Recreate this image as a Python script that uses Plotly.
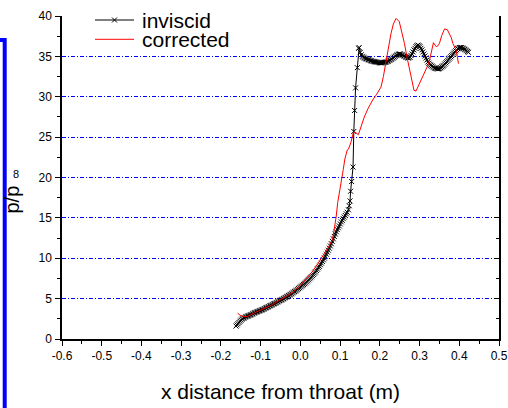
import plotly.graph_objects as go

# ---- data ----
inviscid_x = [
    -0.1620, -0.1595, -0.1570, -0.1545, -0.1520, -0.1495, -0.1470, -0.1445, -0.1420, -0.1395,
    -0.1370, -0.1345, -0.1320, -0.1295, -0.1270, -0.1245, -0.1220, -0.1195, -0.1170, -0.1145,
    -0.1120, -0.1095, -0.1070, -0.1045, -0.1020, -0.0995, -0.0970, -0.0945, -0.0920, -0.0895,
    -0.0870, -0.0845, -0.0820, -0.0795, -0.0770, -0.0745, -0.0720, -0.0695, -0.0670, -0.0645,
    -0.0620, -0.0595, -0.0570, -0.0545, -0.0520, -0.0495, -0.0470, -0.0445, -0.0420, -0.0395,
    -0.0370, -0.0345, -0.0320, -0.0295, -0.0270, -0.0245, -0.0220, -0.0195, -0.0170, -0.0145,
    -0.0120, -0.0095, -0.0070, -0.0045, -0.0020, 0.0005, 0.0030, 0.0055, 0.0080, 0.0105,
    0.0130, 0.0155, 0.0180, 0.0205, 0.0230, 0.0255, 0.0280, 0.0305, 0.0330, 0.0355,
    0.0380, 0.0405, 0.0430, 0.0455, 0.0480, 0.0505, 0.0530, 0.0555, 0.0580, 0.0605,
    0.0630, 0.0655, 0.0680, 0.0705, 0.0730, 0.0755, 0.0780, 0.0805, 0.0830, 0.0855,
    0.0880, 0.0905, 0.0930, 0.0955, 0.0980, 0.1005, 0.1030, 0.1055, 0.1080, 0.1105,
    0.1130, 0.1155, 0.1180, 0.1210, 0.1230,
    0.1250, 0.1265, 0.1290, 0.1326, 0.1345, 0.1366, 0.1390, 0.1434, 0.1467, 0.1480,
    0.1510, 0.1535, 0.1560, 0.1585, 0.1610, 0.1635, 0.1660, 0.1685, 0.1710, 0.1735,
    0.1760, 0.1785, 0.1810, 0.1835, 0.1860, 0.1885, 0.1910, 0.1935, 0.1960, 0.1985,
    0.2010, 0.2035, 0.2060, 0.2085, 0.2110, 0.2135, 0.2160, 0.2185, 0.2210, 0.2235,
    0.2260, 0.2285, 0.2310, 0.2335, 0.2360, 0.2385, 0.2410, 0.2435, 0.2460, 0.2485,
    0.2510, 0.2535, 0.2560, 0.2585, 0.2610, 0.2635, 0.2660, 0.2685, 0.2710, 0.2735,
    0.2760, 0.2785, 0.2810, 0.2835, 0.2860, 0.2885, 0.2910, 0.2935, 0.2960, 0.2985,
    0.3010, 0.3035, 0.3060, 0.3085, 0.3110, 0.3135, 0.3160, 0.3185, 0.3210, 0.3235,
    0.3260, 0.3285, 0.3310, 0.3335, 0.3360, 0.3385, 0.3410, 0.3435, 0.3460, 0.3485,
    0.3510, 0.3535, 0.3560, 0.3585, 0.3610, 0.3635, 0.3660, 0.3685, 0.3710, 0.3735,
    0.3760, 0.3785, 0.3810, 0.3835, 0.3860, 0.3885, 0.3910, 0.3935, 0.3960, 0.3985,
    0.4010, 0.4035, 0.4060, 0.4085, 0.4110, 0.4135, 0.4160, 0.4185, 0.4210, 0.4230]
inviscid_y = [
    1.60, 1.75, 1.90, 2.05, 2.20, 2.33, 2.45, 2.53, 2.60, 2.68,
    2.75, 2.80, 2.85, 2.90, 2.95, 3.00, 3.05, 3.12, 3.20, 3.25,
    3.30, 3.35, 3.40, 3.45, 3.50, 3.55, 3.60, 3.65, 3.70, 3.78,
    3.85, 3.90, 3.95, 4.02, 4.10, 4.15, 4.20, 4.28, 4.35, 4.40,
    4.45, 4.53, 4.60, 4.68, 4.75, 4.80, 4.85, 4.93, 5.00, 5.08,
    5.15, 5.23, 5.30, 5.38, 5.45, 5.53, 5.60, 5.70, 5.80, 5.88,
    5.95, 6.05, 6.15, 6.25, 6.35, 6.45, 6.55, 6.65, 6.75, 6.85,
    6.95, 7.08, 7.20, 7.33, 7.45, 7.58, 7.70, 7.85, 8.00, 8.15,
    8.30, 8.48, 8.65, 8.83, 9.00, 9.20, 9.40, 9.60, 9.80, 10.02,
    10.25, 10.50, 10.75, 11.00, 11.25, 11.52, 11.80, 12.10, 12.40, 12.70,
    13.00, 13.28, 13.55, 13.78, 14.00, 14.25, 14.50, 14.70, 14.90, 15.10,
    15.30, 15.50, 15.70, 16.00, 16.50,
    17.1, 18.3, 19.5, 21.3, 25.7, 28.3, 31.1, 33.6, 36.0, 36.1,
    35.5, 35.2, 35.0, 34.9, 34.8, 34.75, 34.7, 34.65, 34.6, 34.55,
    34.5, 34.45, 34.4, 34.37, 34.35, 34.32, 34.3, 34.27, 34.25, 34.22,
    34.2, 34.2, 34.2, 34.22, 34.25, 34.28, 34.3, 34.35, 34.4, 34.48,
    34.55, 34.62, 34.7, 34.8, 34.9, 35.0, 35.1, 35.18, 35.25, 35.28,
    35.3, 35.25, 35.2, 35.12, 35.05, 34.98, 34.9, 34.85, 34.8, 34.83,
    34.9, 35.1, 35.3, 35.55, 35.8, 36.0, 36.2, 36.32, 36.4, 36.32,
    36.2, 36.0, 35.8, 35.55, 35.3, 35.05, 34.8, 34.55, 34.3, 34.15,
    34.0, 33.9, 33.8, 33.7, 33.6, 33.55, 33.5, 33.47, 33.45, 33.47,
    33.5, 33.6, 33.7, 33.8, 33.9, 34.05, 34.2, 34.35, 34.5, 34.65,
    34.8, 34.95, 35.1, 35.25, 35.4, 35.55, 35.7, 35.83, 35.95, 36.03,
    36.1, 36.1, 36.1, 36.03, 35.95, 35.88, 35.8, 35.7, 35.6, 35.5]

corrected_x = [-0.158, -0.152, -0.145, -0.138, -0.131, -0.124, -0.115, -0.106, -0.090, -0.075,
               -0.063, -0.050, -0.040, -0.021, 0.001, 0.015, 0.031, 0.045, 0.060, 0.072,
               0.081, 0.085, 0.090, 0.094, 0.100, 0.104, 0.108, 0.112, 0.118, 0.121,
               0.127, 0.133, 0.138, 0.146, 0.153, 0.161, 0.170, 0.182, 0.192, 0.203,
               0.209, 0.216, 0.222, 0.228, 0.234, 0.241, 0.249, 0.255, 0.262, 0.268,
               0.275, 0.281, 0.286, 0.291, 0.296, 0.302, 0.308, 0.315, 0.321, 0.326,
               0.331, 0.335, 0.339, 0.342, 0.346, 0.350, 0.356, 0.363, 0.370, 0.376,
               0.380, 0.384, 0.389, 0.392, 0.395, 0.398]
corrected_y = [3.2, 2.95, 2.8, 2.75, 2.85, 3.05, 3.25, 3.45, 3.8, 4.15,
               4.5, 4.85, 5.1, 5.7, 6.7, 7.5, 8.4, 9.4, 10.5, 11.5,
               12.3, 13.4, 15.1, 16.9, 18.5, 19.7, 21.0, 22.3, 23.4, 23.5,
               24.3, 25.5, 25.6, 25.3, 26.3, 27.5, 28.5, 29.6, 30.3, 31.2,
               32.5, 34.5, 36.2, 37.8, 39.0, 39.7, 39.3, 38.2, 36.6, 35.0,
               33.3, 31.8, 30.8, 30.7, 31.2, 31.8, 32.5, 33.1, 33.9, 34.7,
               35.7, 36.7, 36.4, 36.2, 36.3, 36.6, 37.6, 38.4, 38.3, 37.8,
               37.3, 36.6, 36.2, 35.8, 35.0, 34.1]

x_tick_vals = [-0.6, -0.5, -0.4, -0.3, -0.2, -0.1, 0.0, 0.1, 0.2, 0.3, 0.4, 0.5]
x_tick_text = ["-0.6", "-0.5", "-0.4", "-0.3", "-0.2", "-0.1", "0.0", "0.1", "0.2", "0.3", "0.4", "0.5"]

series_names = ["inviscid", "corrected"]
x_title = "x distance from throat (m)"
y_title = "p/p"
y_title_sup = "8"

FONT = "Liberation Sans, Arial, sans-serif"

fig = go.Figure()
fig.add_trace(go.Scatter(
    x=inviscid_x, y=inviscid_y, mode="lines+markers", name=series_names[0],
    line=dict(color="black", width=1),
    marker=dict(symbol="x-thin", size=5, color="black", line=dict(width=1, color="black")),
    showlegend=False))
fig.add_trace(go.Scatter(
    x=corrected_x, y=corrected_y, mode="lines", name=series_names[1],
    line=dict(color="#ff0000", width=1), showlegend=False))
# invisible trace to materialise the right-hand axis
fig.add_trace(go.Scatter(x=[None], y=[None], yaxis="y2", showlegend=False, hoverinfo="skip"))

W, H = 508, 408
L, R, T, B = 62, 9, 16, 69
pw, ph = W - L - R, H - T - B

def px(xp):
    return (xp - L) / pw

def py(yp):
    return (H - B - yp) / ph

fig.update_layout(
    template="none",
    width=W, height=H,
    margin=dict(l=L, r=R, t=T, b=B, autoexpand=False),
    paper_bgcolor="white", plot_bgcolor="white",
    font=dict(family=FONT, size=12, color="black"),
    showlegend=False,
    xaxis=dict(
        range=[-0.6, 0.5], tickmode="array", tickvals=x_tick_vals, ticktext=x_tick_text,
        showline=True, linecolor="black", linewidth=1.5, automargin=False,
        ticks="outside", ticklen=5, tickwidth=1, tickcolor="black",
        minor=dict(dtick=0.05, tick0=0, ticks="outside", ticklen=3, tickcolor="black", showgrid=False),
        showgrid=False, zeroline=False,
        tickfont=dict(size=12),
        title=dict(text=x_title, font=dict(size=21), standoff=22),
    ),
    yaxis=dict(
        range=[0, 40], dtick=5, tick0=0, automargin=False,
        showline=True, linecolor="black", linewidth=1.5,
        ticks="outside", ticklen=5, tickwidth=1, tickcolor="black",
        minor=dict(dtick=2.5, ticks="outside", ticklen=3, tickcolor="black", showgrid=False),
        showgrid=True, gridcolor="#0000ff", gridwidth=1, griddash="4px,2px,1px,2px",
        zeroline=False, tickfont=dict(size=12), ticklabelstandoff=1,
    ),
    yaxis2=dict(
        overlaying="y", side="right", range=[0, 40], dtick=5, tick0=0, automargin=False,
        showline=True, linecolor="black", linewidth=1.5,
        ticks="inside", ticklen=5, tickwidth=1, tickcolor="black",
        minor=dict(dtick=2.5, ticks="inside", ticklen=3, tickcolor="black", showgrid=False),
        showgrid=False, zeroline=False, showticklabels=False,
    ),
)

# manual legend (tight line spacing like the reference)
shapes = [
    dict(type="line", xref="paper", yref="paper", x0=px(95), x1=px(134), y0=py(20), y1=py(20),
         line=dict(color="black", width=1)),
    dict(type="path", xref="paper", yref="paper", xsizemode="pixel", ysizemode="pixel",
         xanchor=px(114.5), yanchor=py(20),
         path="M-2.5,-2.5L2.5,2.5M-2.5,2.5L2.5,-2.5", line=dict(color="black", width=1)),
    dict(type="line", xref="paper", yref="paper", x0=px(95), x1=px(134), y0=py(39.3), y1=py(39.3),
         line=dict(color="#ff0000", width=1)),
    # blue frame fragment at the left edge
    dict(type="rect", xref="paper", yref="paper", x0=px(-20), x1=px(4.7), y0=py(430), y1=py(40),
         line=dict(color="#0000ff", width=4), fillcolor="rgba(0,0,0,0)"),
]
annotations = [
    dict(text=series_names[0], xref="paper", yref="paper", x=px(140), y=py(21),
         xanchor="left", yanchor="middle", showarrow=False, font=dict(size=21)),
    dict(text=series_names[1], xref="paper", yref="paper", x=px(140), y=py(39.5),
         xanchor="left", yanchor="middle", showarrow=False, font=dict(size=21)),
    dict(text=y_title, xref="paper", yref="paper", x=px(11.5), y=py(200), textangle=-90,
         xanchor="center", yanchor="middle", showarrow=False, font=dict(size=20)),
    dict(text=y_title_sup, xref="paper", yref="paper", x=px(15.5), y=py(173.5),
         xanchor="center", yanchor="middle", showarrow=False, font=dict(size=11)),
]
fig.update_layout(shapes=shapes, annotations=annotations)

fig.write_html("out.html")
